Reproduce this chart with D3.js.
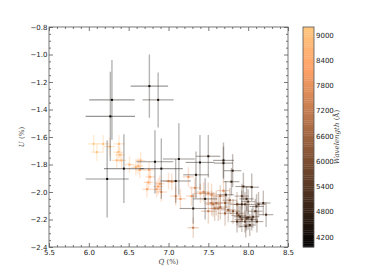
<!DOCTYPE html>
<html><head><meta charset="utf-8">
<script src="https://cdn.jsdelivr.net/npm/d3@7"></script>
<style>html,body{margin:0;padding:0;background:#fff;}svg{display:block;}</style>
</head><body>
<svg id="c" width="387" height="276"></svg>
<script>
const qVals = [6.29,6.27,6.76,6.87,6.23,6.44,6.83,6.91,7.13,7.09,7.395,7.345,7.31,7.50,7.46,7.69,7.69,7.805,7.79,7.94,8.045,7.92,8.105,8.225,8.0,8.02,7.72,7.98,8.19,8.045,7.90,7.86,
 7.50,7.56,7.625,7.71,7.77,7.81,7.86,7.88,7.96,7.98,8.00,8.09,8.13,7.97,7.65,7.92,7.50,7.60,7.58,7.71,7.54,7.86,7.92,7.96,7.75,8.06,8.11,7.65,
 6.06,6.10,6.18,6.26,6.38,6.39,6.35,6.41,6.51,6.59,6.62,6.65,6.64,6.755,6.77,6.75,6.73,6.85,6.87,6.89,7.00,7.04,7.09,6.91,7.15,7.25,7.29,7.33,7.31,7.40,7.44,7.54,7.69,6.37];
const uVals = [-1.33,-1.45,-1.23,-1.33,-1.905,-1.83,-1.78,-1.83,-1.76,-1.92,-1.785,-1.875,-2.12,-1.74,-2.05,-1.77,-1.79,-1.845,-1.925,-1.96,-1.965,-2.09,-2.105,-2.165,-2.185,-2.24,-2.02,-2.05,-2.08,-2.20,-2.18,-2.215,
 -2.01,-2.09,-2.12,-2.08,-2.06,-2.14,-2.09,-2.17,-2.09,-2.19,-2.07,-2.14,-2.09,-2.25,-2.03,-2.03,-2.14,-2.08,-2.12,-2.155,-2.08,-2.155,-2.20,-2.215,-2.13,-2.18,-2.215,-2.11,
 -1.65,-1.71,-1.65,-1.67,-1.65,-1.73,-1.77,-1.77,-1.80,-1.82,-1.81,-1.77,-1.84,-1.84,-1.89,-1.93,-1.98,-1.98,-1.96,-1.94,-1.92,-1.925,-2.03,-2.00,-2.05,-1.89,-2.03,-1.97,-2.26,-2.01,-2.00,-2.02,-1.99,-1.71];
const qErr = [0.285,0.31,0.235,0.195,0.27,0.25,0.23,0.27,0.2,0.19,0.18,0.16,0.17,0.15,0.15,0.13,0.12,0.11,0.1,0.1,0.09,0.1,0.09,0.09,0.08,0.08,0.1,0.09,0.09,0.08,0.08,0.08,
 0.09,0.09,0.09,0.09,0.09,0.09,0.09,0.09,0.09,0.09,0.09,0.09,0.09,0.08,0.09,0.09,0.09,0.09,0.09,0.09,0.09,0.09,0.09,0.08,0.09,0.08,0.08,0.09,
 0.07,0.07,0.07,0.07,0.07,0.06,0.06,0.06,0.06,0.06,0.06,0.06,0.06,0.06,0.06,0.06,0.06,0.06,0.06,0.06,0.07,0.07,0.07,0.07,0.07,0.07,0.07,0.07,0.07,0.08,0.08,0.08,0.08,0.06];
const uErr = [0.29,0.325,0.23,0.2,0.28,0.25,0.23,0.22,0.26,0.16,0.2,0.17,0.11,0.155,0.15,0.13,0.12,0.12,0.1,0.1,0.1,0.1,0.09,0.09,0.09,0.08,0.1,0.09,0.09,0.08,0.08,0.08,
 0.08,0.09,0.09,0.09,0.09,0.09,0.09,0.09,0.09,0.09,0.09,0.09,0.09,0.08,0.08,0.09,0.09,0.09,0.09,0.09,0.09,0.09,0.09,0.08,0.09,0.08,0.08,0.09,
 0.065,0.065,0.065,0.065,0.065,0.06,0.06,0.06,0.06,0.06,0.06,0.06,0.06,0.06,0.06,0.06,0.06,0.06,0.06,0.06,0.06,0.06,0.07,0.07,0.07,0.07,0.07,0.07,0.075,0.07,0.07,0.08,0.08,0.06];
const wavelength = [4100,4000,4200,4300,4050,4150,4250,4350,4300,4450,4400,4500,4550,4450,4600,4500,4650,4700,4750,4800,4850,4900,4950,5000,5050,5100,4900,4950,5000,5050,5100,5150,
 7300,7000,6800,6600,6400,6200,6000,5800,5600,5500,5400,5300,5200,5150,6900,5700,7100,6950,6750,6500,7050,5900,5750,5450,6300,5350,5250,6700,
 9100,9050,9000,8950,8900,8850,8800,8750,8700,8650,8600,8550,8500,8450,8400,8350,8300,8250,8200,8150,8100,8050,8000,8100,7950,7900,7850,7800,7200,7700,7650,7600,7500,8850];
const xTicks = [5.5,6.0,6.5,7.0,7.5,8.0,8.5];
const yTicks = [-2.4,-2.2,-2.0,-1.8,-1.6,-1.4,-1.2,-1.0,-0.8];
const cTicks = [4200,4800,5400,6000,6600,7200,7800,8400,9000];
const wlRange = [3960,9190];

function copper(t){t=Math.max(0,Math.min(1,t));return d3.rgb(255*Math.min(1,t/0.809524),255*0.7812*t,255*0.4975*t);}

const svg = d3.select('#c');
const L=49,R=288,T=27,B=247;
const x = d3.scaleLinear().domain([5.5,8.5]).range([L,R]);
const y = d3.scaleLinear().domain([-2.4,-0.8]).range([B,T]);
const cn = d3.scaleLinear().domain(wlRange).range([0,1]);
const col = w=>copper(cn(w));
const frame='#555';

const pts = qVals.map((q,i)=>({q,u:uVals[i],qe:qErr[i],ue:uErr[i],w:wavelength[i]})).sort((a,b)=>b.w-a.w);
const g = svg.append('g');
pts.forEach(p=>{
  const c=col(p.w);
  g.append('line').attr('x1',x(p.q-p.qe)).attr('x2',x(p.q+p.qe)).attr('y1',y(p.u)).attr('y2',y(p.u))
    .attr('stroke',c).attr('stroke-width',1.1).attr('stroke-opacity',0.42);
  g.append('line').attr('x1',x(p.q)).attr('x2',x(p.q)).attr('y1',y(p.u-p.ue)).attr('y2',y(p.u+p.ue))
    .attr('stroke',c).attr('stroke-width',1.4).attr('stroke-opacity',0.3);
  g.append('rect').attr('x',x(p.q)-1).attr('y',y(p.u)-1).attr('width',2).attr('height',2).attr('fill',c);
});

svg.append('rect').attr('x',L).attr('y',T).attr('width',R-L).attr('height',B-T).attr('fill','none').attr('stroke',frame).attr('stroke-width',0.8);
const fmt = d3.format('.1f');
function style(sel,labels){
  sel.select('.domain').remove();
  sel.selectAll('.tick line').attr('stroke',frame).attr('stroke-width',0.8);
  sel.selectAll('.tick text').attr('fill','#222').style('font-family','DejaVu Sans').style('font-size','7px');
  if(!labels) sel.selectAll('.tick text').remove();
}
const xMinor = d3.range(56,86).map(v=>v/10).filter(v=>Math.abs(v*2-Math.round(v*2))>1e-6);
const yMinor = d3.range(-48,-15).map(v=>v/20).filter(v=>Math.abs(v*5-Math.round(v*5))>1e-6);
svg.append('g').attr('transform',`translate(0,${B})`).call(d3.axisBottom(x).tickValues(xTicks).tickFormat(fmt).tickSize(-4).tickPadding(3)).call(s=>style(s,true));
svg.append('g').attr('transform',`translate(0,${B})`).call(d3.axisBottom(x).tickValues(xMinor).tickSize(-2)).call(s=>style(s,false));
svg.append('g').attr('transform',`translate(0,${T})`).call(d3.axisTop(x).tickValues(xTicks).tickSize(-4)).call(s=>style(s,false));
svg.append('g').attr('transform',`translate(0,${T})`).call(d3.axisTop(x).tickValues(xMinor).tickSize(-2)).call(s=>style(s,false));
svg.append('g').attr('transform',`translate(${L},0)`).call(d3.axisLeft(y).tickValues(yTicks).tickFormat(fmt).tickSize(-4).tickPadding(1.5)).call(s=>style(s,true));
svg.append('g').attr('transform',`translate(${L},0)`).call(d3.axisLeft(y).tickValues(yMinor).tickSize(-2)).call(s=>style(s,false));
svg.append('g').attr('transform',`translate(${R},0)`).call(d3.axisRight(y).tickValues(yTicks).tickSize(-4)).call(s=>style(s,false));
svg.append('g').attr('transform',`translate(${R},0)`).call(d3.axisRight(y).tickValues(yMinor).tickSize(-2)).call(s=>style(s,false));

svg.append('text').attr('x',(L+R)/2).attr('y',264).attr('text-anchor','middle')
  .style('font-family','DejaVu Serif').style('font-size','7px').attr('fill','#444')
  .html('<tspan font-style="italic">Q</tspan> (%)');
svg.append('text').attr('transform',`translate(24,${(T+B)/2}) rotate(-90)`).attr('text-anchor','middle')
  .style('font-family','DejaVu Serif').style('font-size','7px').attr('fill','#444')
  .html('<tspan font-style="italic">U</tspan> (%)');

const CL=303,CR=314;
const cy = d3.scaleLinear().domain(wlRange).range([B,T]);
const N=120;
const steps = d3.range(N).map(i=>wlRange[0]+(wlRange[1]-wlRange[0])*i/N);
const dw=(wlRange[1]-wlRange[0])/N;
svg.append('g').selectAll('rect').data(steps).join('rect')
  .attr('x',CL).attr('width',CR-CL).attr('y',d=>cy(d+dw)).attr('height',d=>cy(d)-cy(d+dw)+0.3)
  .attr('fill',d=>col(d+dw/2));
svg.append('rect').attr('x',CL).attr('y',T).attr('width',CR-CL).attr('height',B-T).attr('fill','none').attr('stroke',frame).attr('stroke-width',0.8);
svg.append('g').attr('transform',`translate(${CR},0)`).call(d3.axisRight(cy).tickValues(cTicks).tickFormat(d3.format('d')).tickSize(0).tickPadding(2))
  .call(s=>style(s,true));
svg.append('text').attr('transform',`translate(339,${(T+B)/2}) rotate(-90)`).attr('text-anchor','middle')
  .style('font-family','DejaVu Serif').style('font-size','7px').attr('fill','#444')
  .html('<tspan font-style="italic">Wavelength</tspan> (Å)');
</script>
</body></html>
